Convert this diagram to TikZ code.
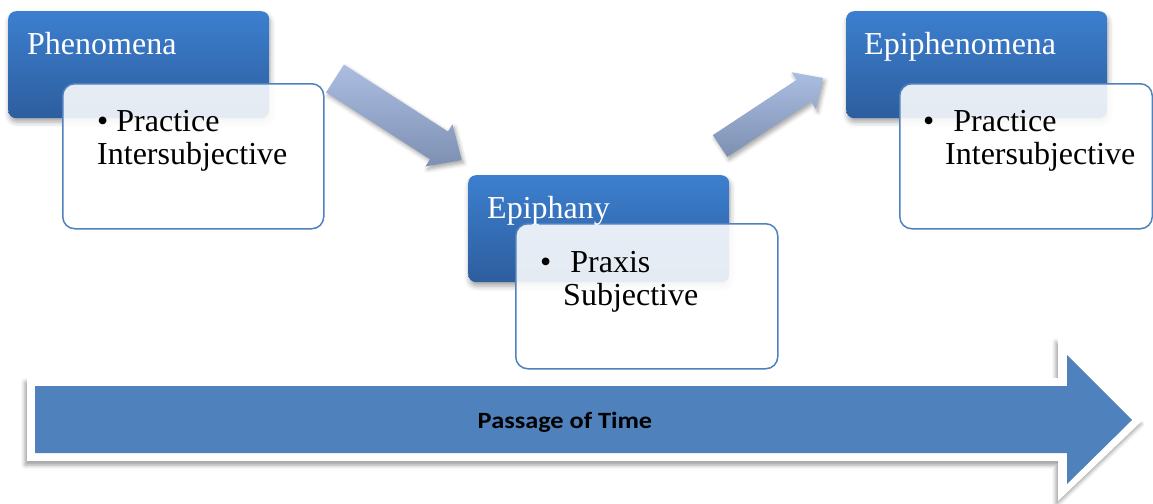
\documentclass[tikz,border=0pt]{standalone}
\usepackage{fontspec}
\setmainfont{Liberation Serif}
\newfontfamily\calibfont{Carlito}
\usepackage{graphicx}
\usetikzlibrary{calc,shadows.blur}
\definecolor{boxtop}{HTML}{3C7FCF}
\definecolor{boxbot}{HTML}{2D5E9E}
\definecolor{boxline}{HTML}{4F81BD}
\definecolor{arrtop}{HTML}{ABBEE2}
\definecolor{arrbot}{HTML}{7D90B2}
\definecolor{bigblue}{HTML}{4F81BD}
\newcommand\mkslant[5]{%
  \coordinate (hb) at ($(#2)!#4!(#1)$);
  \shade[top color=arrtop, bottom color=arrbot,
    blur shadow={shadow xshift=2pt, shadow yshift=-3pt, shadow blur radius=4pt, shadow opacity=35}]
    ($(#1)!#3!90:(#2)$) -- ($(hb)!#3!90:(#2)$) -- ($(hb)!#5!90:(#2)$) -- (#2)
    -- ($(hb)!#5!-90:(#2)$) -- ($(hb)!#3!-90:(#2)$) -- ($(#1)!#3!-90:(#2)$) -- cycle;}
\begin{document}
\begin{tikzpicture}[x=1pt,y=-1pt,
  titlebox/.style={rectangle, rounded corners=8pt, top color=boxtop, bottom color=boxbot,
    anchor=north west, inner sep=0pt, minimum width=261pt, minimum height=107pt,
    blur shadow={shadow xshift=1pt, shadow yshift=-4pt, shadow blur radius=5pt, shadow opacity=35}},
  itembox/.style={rectangle, rounded corners=12pt, draw=boxline, line width=1.5pt, fill=white,
    fill opacity=0.88, anchor=north west, inner sep=0pt, minimum width=261pt, minimum height=145pt},
  ttl/.style={anchor=base west, inner sep=0pt, text=white, font=\fontsize{32}{32}\selectfont},
  itm/.style={anchor=base west, inner sep=0pt, text=black, font=\fontsize{32}{32}\selectfont},
]
\useasboundingbox (0,0) rectangle (1153,503);

% big arrow
\fill[white, blur shadow={shadow xshift=-2pt, shadow yshift=-4pt, shadow blur radius=4pt, shadow opacity=40}]
  (27,378) -- (1058,378) -- (1058,338) -- (1143,420) -- (1058,501) -- (1058,461) -- (27,461) -- cycle;
\fill[bigblue] (35,386) -- (1067,386) -- (1067,355) -- (1132,420) -- (1067,484) -- (1067,453) -- (35,453) -- cycle;
\node[anchor=base, inner sep=0pt, font=\calibfont\bfseries\fontsize{23.3}{24}\selectfont] (time) at (565,428) {\scalebox{1.13}[1]{Passage of Time}};

% slanted arrows
\coordinate (a1t) at (335,78.5);
\coordinate (a1p) at (461.7,160);
\mkslant{a1t}{a1p}{16.5pt}{27pt}{25pt}
\coordinate (a2t) at (720,146);
\coordinate (a2p) at (823,78);
\mkslant{a2t}{a2p}{13pt}{23pt}{22pt}

% group 1
\node[titlebox] (phen) at (8,11) {};
\node[itembox] (phenitem) at (62,83) {};
\node[ttl] (phent) at (27,55) {Phenomena};
\node[itm] (phen1) at (97,131.7) {• Practice};
\node[itm] (phen2) at (97,164) {Intersubjective};

% group 2
\node[titlebox] (epy) at (468,175) {};
\node[itembox, minimum width=262pt] (epyitem) at (515,223) {};
\node[ttl] (epyt) at (487,218) {Epiphany};
\node[itm] (epy1) at (540,272) {•\hspace{19pt}Praxis};
\node[itm] (epy2) at (563,305) {Subjective};

% group 3
\node[titlebox] (epi) at (846,11) {};
\node[itembox, minimum width=252.5pt] (epiitem) at (899,83) {};
\node[ttl] (epit) at (864,55) {Epiphenomena};
\node[itm] (epi1) at (923,131.7) {•\hspace{19pt}Practice};
\node[itm] (epi2) at (945,164) {Intersubjective};
\end{tikzpicture}
\end{document}
